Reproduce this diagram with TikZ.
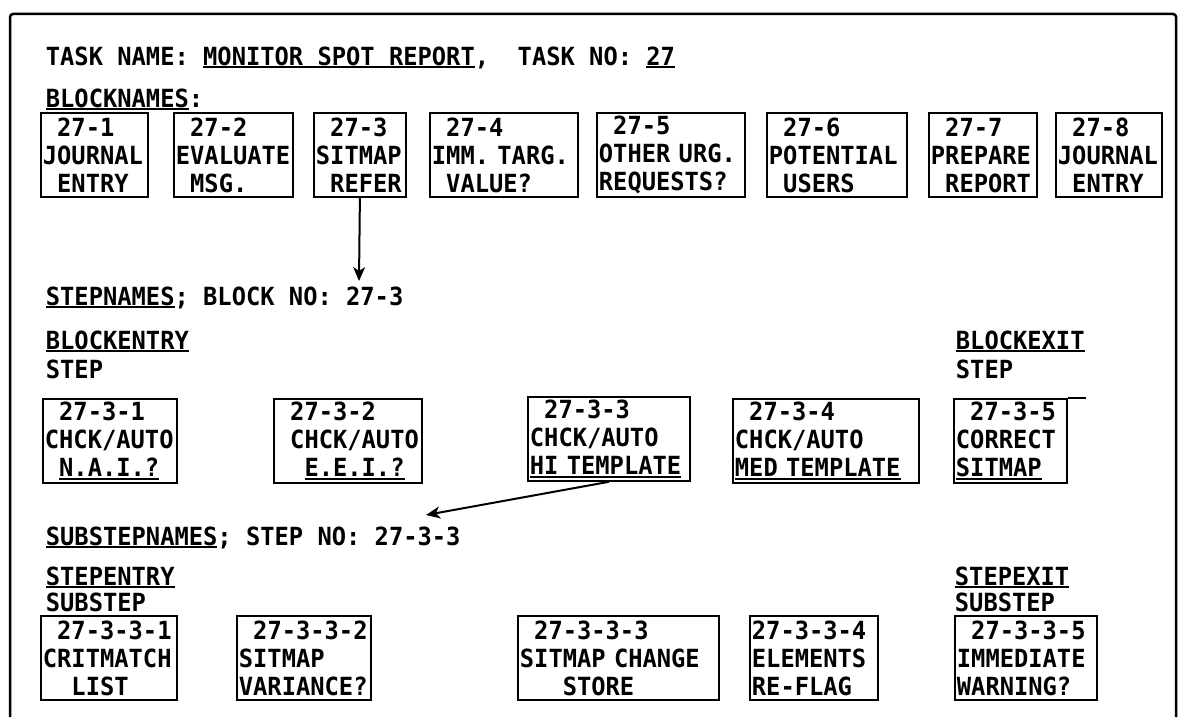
\documentclass[tikz,border=0pt]{standalone}
\usepackage{fontspec}
\setmainfont{DejaVu Sans Mono}[FakeStretch=0.95, WordSpace={1,0,0}]
\usepackage{tikz}
\usetikzlibrary{positioning, arrows.meta}

\newcommand{\sk}{\hphantom{0}}
\newcommand{\undr}[1]{\leavevmode\setbox0\hbox{#1}\rlap{\rule[-3pt]{\wd0}{1.8pt}}\box0}

\begin{document}
\begin{tikzpicture}[>={Stealth[length=14pt, width=12pt, inset=4pt]}, x=1pt, y=-1pt, line width=1.8pt,
    font=\bfseries\fontsize{25}{28}\selectfont,
    namebox/.style={draw, anchor=north west, align=left, inner xsep=2pt,
        inner ysep=1pt, minimum height=84, text width=#1},
    lbl/.style={anchor=base west, inner sep=0pt}]

    \useasboundingbox (0,0) rectangle (1182,717);

    % =================================================================
    % 1. KHUNG NGOAI VA TIEU DE
    % =================================================================
    \draw[line width=2.5pt, rounded corners=3pt] (10,717) -- (10,14) -- (1176,14) -- (1176,717);

    \node[lbl] (title) at (45,65) {TASK NAME: \undr{MONITOR SPOT REPORT},\sk\sk TASK NO: \undr{27}};
    \node[lbl] (blocknames) at (45,107) {\undr{BLOCKNAMES}:};

    % =================================================================
    % 2. CAC KHOI (BLOCK)
    % =================================================================
    \node[namebox=103] (b1) at (40,112) {\sk 27-1\\JOURNAL\\\sk ENTRY};
    \node[namebox=115] (b2) at (173,112) {\sk 27-2\\EVALUATE\\\sk MSG.};
    \node[namebox=88] (b3) at (313,112) {\sk 27-3\\SITMAP\\\sk REFER};
    \node[namebox=144] (b4) at (429,112) {\sk 27-4\\IMM. TARG.\\\sk VALUE?};
    \node[namebox=144] (b5) at (596,112) {\sk 27-5\\OTHER URG.\\REQUESTS?};
    \node[namebox=136] (b6) at (766,112) {\sk 27-6\\POTENTIAL\\\sk USERS};
    \node[namebox=104] (b7) at (928,112) {\sk 27-7\\PREPARE\\\sk REPORT};
    \node[namebox=102] (b8) at (1055,112) {\sk 27-8\\JOURNAL\\\sk ENTRY};

    % Mui ten xuong buoc cua khoi 27-3
    \coordinate (tipA) at (359,281);
    \draw[->, line width=2pt] (b3.south) -- (tipA);

    % =================================================================
    % 3. CAC BUOC (STEP) CUA KHOI 27-3
    % =================================================================
    \node[lbl] (stepnames) at (45,305) {\undr{STEPNAMES}; BLOCK NO: 27-3};
    \node[lbl] (bentry) at (45,349) {\undr{BLOCKENTRY}};
    \node[lbl] (bentrystep) at (45,378) {STEP};
    \node[lbl] (bexit) at (955,349) {\undr{BLOCKEXIT}};
    \node[lbl] (bexitstep) at (955,378) {STEP};

    \node[namebox=130] (s1) at (42,398) {\sk 27-3-1\\CHCK/AUTO\\\sk\undr{N.A.I.?}};
    \node[namebox=144] (s2) at (273,398) {\sk 27-3-2\\\sk CHCK/AUTO\\\sk\sk\undr{E.E.I.?}};
    \node[namebox=158] (s3) at (527,396) {\sk 27-3-3\\CHCK/AUTO\\\undr{HI TEMPLATE}};
    \node[namebox=182] (s4) at (732,398) {\sk 27-3-4\\CHCK/AUTO\\\undr{MED TEMPLATE}};
    \node[namebox=109] (s5) at (953,398) {\sk 27-3-5\\CORRECT\\\undr{SITMAP}};
    \draw (s5.north east) -- ++(18,0);

    % Mui ten tu buoc 27-3-3 xuong cac buoc con
    \coordinate (tipB) at (426,515);
    \draw[->, line width=2pt] (s3.south) -- (tipB);

    % =================================================================
    % 4. CAC BUOC CON (SUBSTEP) CUA BUOC 27-3-3
    % =================================================================
    \node[lbl] (substepnames) at (45,545) {\undr{SUBSTEPNAMES}; STEP NO: 27-3-3};
    \node[lbl] (sentry) at (45,585) {\undr{STEPENTRY}};
    \node[lbl] (sentrysub) at (45,611) {SUBSTEP};
    \node[lbl] (sexit) at (954,585) {\undr{STEPEXIT}};
    \node[lbl] (sexitsub) at (954,611) {SUBSTEP};

    \node[namebox=132] (u1) at (40,615) {\sk 27-3-3-1\\CRITMATCH\\\sk\sk LIST};
    \node[namebox=130] (u2) at (236,615) {\sk 27-3-3-2\\SITMAP\\VARIANCE?};
    \node[namebox=197] (u3) at (517,615) {\sk 27-3-3-3\\SITMAP CHANGE\\\sk\sk\sk STORE};
    \node[namebox=124] (u4) at (749,615) {27-3-3-4\\ELEMENTS\\RE-FLAG};
    \node[namebox=138] (u5) at (954,615) {\sk 27-3-3-5\\IMMEDIATE\\WARNING?};

\end{tikzpicture}
\end{document}
